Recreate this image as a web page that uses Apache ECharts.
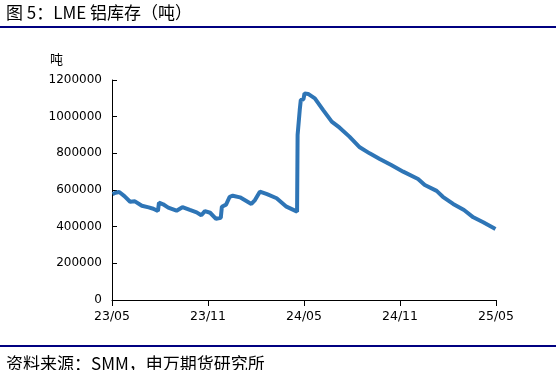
<!DOCTYPE html>
<html><head><meta charset="utf-8">
<script src="https://cdn.jsdelivr.net/npm/echarts@6/dist/echarts.min.js"></script>
<style>html,body{margin:0;padding:0;background:#fff}#c{width:556px;height:370px}</style>
</head><body><div id="c"></div>
<script>
const dates = ['2023-05-02','2023-05-08','2023-05-15','2023-05-25','2023-06-05','2023-06-14','2023-06-27','2023-07-10','2023-07-19','2023-07-28','2023-07-30','2023-08-07','2023-08-17','2023-09-02','2023-09-13','2023-09-27','2023-10-10','2023-10-19','2023-10-26','2023-11-05','2023-11-16','2023-11-25','2023-11-27','2023-12-05','2023-12-12','2023-12-18','2024-01-01','2024-01-23','2024-01-30','2024-02-08','2024-02-21','2024-03-10','2024-03-29','2024-04-18','2024-04-19','2024-04-22','2024-04-23','2024-04-25','2024-04-30','2024-05-02','2024-05-09','2024-05-22','2024-06-07','2024-06-23','2024-07-08','2024-07-27','2024-08-16','2024-09-04','2024-09-23','2024-10-15','2024-11-07','2024-12-05','2024-12-18','2025-01-10','2025-01-22','2025-02-10','2025-03-01','2025-03-19','2025-04-07','2025-04-30'];
const stock = [578000,585000,589000,567000,536000,538000,514000,505000,498000,485000,531000,522000,504000,487000,506000,491000,478000,462000,485000,476000,443000,449000,509000,520000,563000,569000,560000,524000,545000,591000,577000,555000,509000,482000,900000,900000,1036000,1091000,1095000,1127000,1124000,1100000,1036000,973000,940000,891000,833000,800000,769000,736000,700000,660000,627000,595000,563000,524000,491000,451000,424000,387000];
const xTickLabels = ['23/05','23/11','24/05','24/11','25/05'];
const yTicks = [0,200000,400000,600000,800000,1000000,1200000];

function monthIndex(s){
  const [y,m,d] = s.split('-').map(Number);
  const dim = new Date(y, m, 0).getDate();
  return (y-2023)*12 + (m-5) + (d-1)/dim;
}
const seriesData = dates.map((d,i)=>[monthIndex(d), stock[i]]);

const chart = echarts.init(document.getElementById('c'));
const axisFont = 'DejaVu Sans';
chart.setOption({
  animation:false,
  grid:{left:112,right:60,top:80,bottom:70,containLabel:false},
  xAxis:{type:'value',min:0,max:24,interval:6,
    axisLine:{lineStyle:{color:'#000',width:1}},
    axisTick:{show:true,length:6,lineStyle:{color:'#000'}},
    splitLine:{show:false},
    axisLabel:{color:'#000',fontFamily:axisFont,fontSize:12.5,margin:10,formatter:v=>xTickLabels[Math.round(v/6)]||''}
  },
  yAxis:{type:'value',min:yTicks[0],max:yTicks[yTicks.length-1],interval:200000,
    axisLine:{show:true,lineStyle:{color:'#000',width:1}},
    axisTick:{show:true,inside:true,length:5,lineStyle:{color:'#000'}},
    splitLine:{show:false},
    axisLabel:{color:'#000',fontFamily:axisFont,fontSize:12,margin:10,formatter:v=>String(v)}
  },
  series:[{type:'line',data:seriesData,showSymbol:false,smooth:false,
    lineStyle:{color:'#2E75B6',width:4},itemStyle:{color:'#2E75B6'},clip:false}],
  graphic:[
    {type:'text',left:6,top:4,style:{text:'图 5：LME 铝库存（吨）',fontFamily:'Noto Sans CJK SC',fontSize:17,fill:'#000'}},
    {type:'rect',shape:{x:0,y:26,width:556,height:2},style:{fill:'#000080'}},
    {type:'text',left:50,top:53,style:{text:'吨',fontFamily:'Noto Sans CJK SC',fontSize:13,fill:'#000'}},
    {type:'rect',shape:{x:0,y:345,width:556,height:2},style:{fill:'#000080'}},
    {type:'text',left:6,top:355,style:{text:'资料来源：SMM，申万期货研究所',fontFamily:'Noto Sans CJK SC',fontSize:17,fill:'#000'}}
  ]
});
</script></body></html>
